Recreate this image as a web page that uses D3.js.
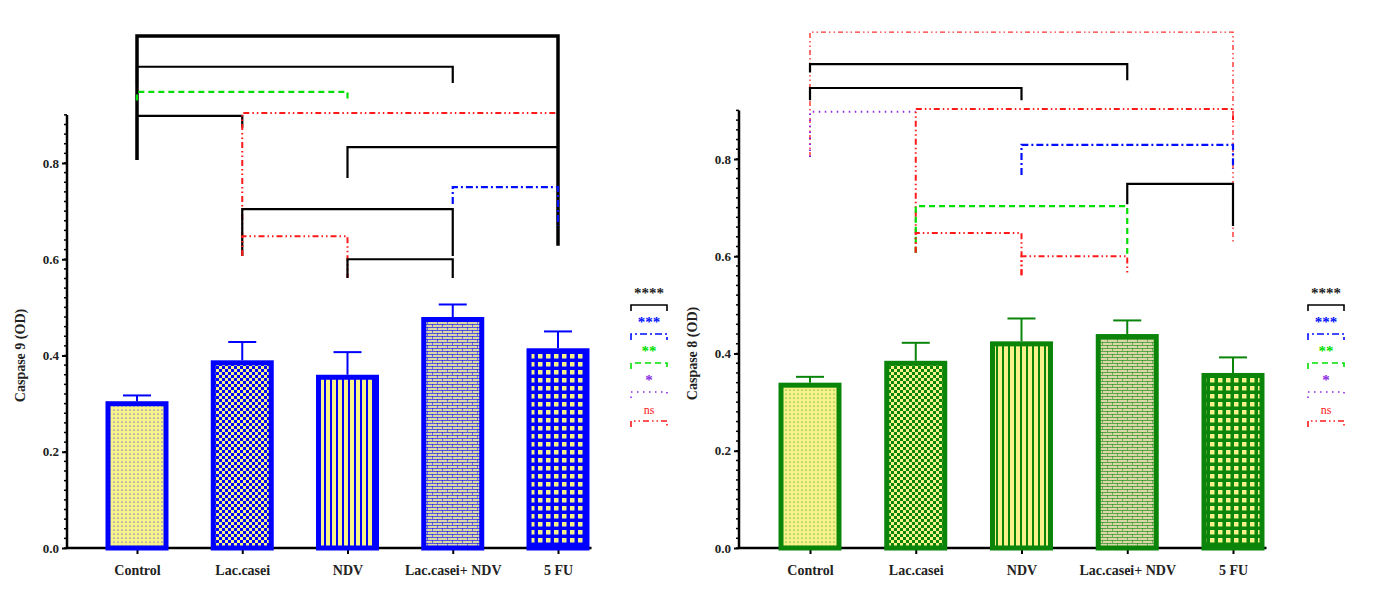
<!DOCTYPE html>
<html>
<script src="https://d3js.org/d3.v7.min.js"></script>
<body style="margin:0;background:#fff">
<svg id="chart" width="1375" height="599"></svg>
<script>
    var categories = ["Control", "Lac.casei", "NDV", "Lac.casei+ NDV", "5 FU"];
    var caspase9 = [0.305, 0.39, 0.36, 0.48, 0.415];
    var caspase9Err = [0.012, 0.038, 0.047, 0.026, 0.035];
    var caspase8 = [0.34, 0.385, 0.425, 0.44, 0.36];
    var caspase8Err = [0.012, 0.037, 0.047, 0.028, 0.032];
    var yTicks = [0.0, 0.2, 0.4, 0.6, 0.8];
    var patternNames = ["dots", "checker", "vstripe", "brick", "grid"];

    // brackets: [from, to, top, leftEnd, rightEnd, style]
    var brackets9 = [
        [0, 4, 1.064, 0.806, 0.628, "thick"],
        [0, 3, 1.0, 0.966, 0.966, "solid"],
        [0, 2, 0.948, 0.93, 0.93, "green"],
        [0, 1, 0.898, 0.806, 0.873, "solid"],
        [1, 4, 0.904, 0.607, 0.904, "red"],
        [2, 4, 0.833, 0.769, 0.833, "solid"],
        [3, 4, 0.75, 0.715, 0.67, "blue"],
        [1, 3, 0.704, 0.607, 0.607, "solid"],
        [1, 2, 0.648, 0.607, 0.561, "red"],
        [2, 3, 0.6, 0.561, 0.561, "solid"]
    ];
    var brackets8 = [
        [0, 4, 1.061, 0.804, 0.629, "redthin"],
        [0, 3, 0.995, 0.978, 0.962, "solid"],
        [0, 2, 0.946, 0.921, 0.921, "solid"],
        [0, 1, 0.897, 0.804, 0.897, "purple"],
        [1, 4, 0.903, 0.607, 0.88, "red"],
        [2, 4, 0.829, 0.767, 0.78, "blue"],
        [3, 4, 0.749, 0.707, 0.662, "solid"],
        [1, 3, 0.703, 0.607, 0.605, "green"],
        [1, 2, 0.648, 0.607, 0.561, "red"],
        [2, 3, 0.6, 0.561, 0.561, "red"]
    ];
    var legendLabels = ["****", "***", "**", "*", "ns"];
    var legendStyles = ["solid", "blue", "green", "purple", "red"];

    var styles = {
        thick: { c: "#000", w: 3.5, d: null },
        solid: { c: "#000", w: 2.2, d: null },
        green: { c: "#00e000", w: 2.2, d: "6,4" },
        red: { c: "#ff1a1a", w: 2, d: "6,3,1.5,3,1.5,3" },
        redthin: { c: "#ff3030", w: 1.4, d: "5,3,1.5,3,1.5,3" },
        blue: { c: "#0010ff", w: 2.2, d: "7,3,2,3" },
        purple: { c: "#8a2be2", w: 2, d: "1.5,4.5" }
    };

    var svg = d3.select("#chart");
    var defs = svg.append("defs");

    function makePatterns(color, prefix) {
        var yel = "#f7f38a";
        var p = defs.append("pattern").attr("id", prefix + "dots").attr("patternUnits", "userSpaceOnUse").attr("width", 4).attr("height", 4);
        p.append("rect").attr("width", 4).attr("height", 4).attr("fill", yel);
        p.append("circle").attr("cx", 2).attr("cy", 2).attr("r", 0.6).attr("fill", color);

        p = defs.append("pattern").attr("id", prefix + "checker").attr("patternUnits", "userSpaceOnUse").attr("width", 6).attr("height", 6);
        p.append("rect").attr("width", 6).attr("height", 6).attr("fill", yel);
        p.append("rect").attr("width", 3).attr("height", 3).attr("fill", color);
        p.append("rect").attr("x", 3).attr("y", 3).attr("width", 3).attr("height", 3).attr("fill", color);

        p = defs.append("pattern").attr("id", prefix + "vstripe").attr("patternUnits", "userSpaceOnUse").attr("width", 6).attr("height", 6);
        p.append("rect").attr("width", 6).attr("height", 6).attr("fill", yel);
        p.append("rect").attr("width", 2).attr("height", 6).attr("fill", color);

        p = defs.append("pattern").attr("id", prefix + "brick").attr("patternUnits", "userSpaceOnUse").attr("width", 10).attr("height", 6);
        p.append("rect").attr("width", 10).attr("height", 6).attr("fill", "#d9d6a8");
        p.append("rect").attr("width", 10).attr("height", 1).attr("fill", color).attr("opacity", 0.6);
        p.append("rect").attr("y", 3).attr("width", 10).attr("height", 1).attr("fill", color).attr("opacity", 0.6);
        p.append("rect").attr("x", 2).attr("width", 1).attr("height", 3).attr("fill", color).attr("opacity", 0.5);
        p.append("rect").attr("x", 7).attr("y", 3).attr("width", 1).attr("height", 3).attr("fill", color).attr("opacity", 0.5);

        p = defs.append("pattern").attr("id", prefix + "grid").attr("patternUnits", "userSpaceOnUse").attr("width", 8).attr("height", 8);
        p.append("rect").attr("width", 8).attr("height", 8).attr("fill", color);
        p.append("rect").attr("x", 2).attr("y", 2).attr("width", 4.5).attr("height", 4.5).attr("fill", yel);
    }

    function drawPanel(opt) {
        makePatterns(opt.color, opt.prefix);
        var g = svg.append("g");
        var x = d3.scalePoint().domain(categories).range([opt.x0, opt.x1]);
        var y = d3.scaleLinear().domain([0, 0.8]).range([548, opt.y08]);
        var bw = 63;

        // axes
        var ay = g.append("g").attr("transform", "translate(" + opt.axisX + ",0)")
            .call(d3.axisLeft(y).tickValues(yTicks).tickFormat(d3.format(".1f")).tickSize(5));
        ay.select(".domain").attr("stroke-width", 2.5).attr("d", "M0," + y(0) + "V" + y(0.9));
        ay.selectAll(".tick line").attr("stroke-width", 2);
        ay.selectAll("text").attr("font-family", "Liberation Serif").attr("font-weight", "bold").attr("font-size", 13).attr("fill", "#222");
        g.append("g").selectAll("line").data(d3.range(0, 0.901, 0.02)).enter().append("line")
            .attr("x1", opt.axisX - 3).attr("x2", opt.axisX).attr("y1", function (d) { return y(d); }).attr("y2", function (d) { return y(d); })
            .attr("stroke", "#000").attr("stroke-width", 1.5);

        var ax = g.append("g").attr("transform", "translate(0," + y(0) + ")")
            .call(d3.axisBottom(x).tickSize(6));
        ax.select(".domain").attr("stroke-width", 2.5).attr("d", "M" + opt.axisX + ",0H" + (opt.x1 + bw / 2 + 2));
        ax.selectAll(".tick line").attr("stroke-width", 2);
        ax.selectAll("text").attr("dy", "1.3em").attr("font-family", "Liberation Serif").attr("font-weight", "bold").attr("font-size", 14).attr("fill", "#222");

        g.append("text").attr("transform", "translate(" + (opt.axisX - 42) + "," + y(0.4) + ") rotate(-90)")
            .attr("text-anchor", "middle").attr("font-family", "Liberation Serif").attr("font-weight", "bold").attr("font-size", 14)
            .attr("fill", "#222").text(opt.label);

        // error bars
        var eb = g.append("g");
        opt.values.forEach(function (v, i) {
            var cx = x(categories[i]);
            eb.append("line").attr("x1", cx).attr("x2", cx).attr("y1", y(v)).attr("y2", y(v + opt.err[i])).attr("stroke", opt.color).attr("stroke-width", 2);
            eb.append("line").attr("x1", cx - 14).attr("x2", cx + 14).attr("y1", y(v + opt.err[i])).attr("y2", y(v + opt.err[i])).attr("stroke", opt.color).attr("stroke-width", 2);
        });

        g.append("g").selectAll("rect").data(opt.values).enter().append("rect")
            .attr("x", function (d, i) { return x(categories[i]) - bw / 2 + 2.5; })
            .attr("y", function (d) { return y(d) + 2.5; })
            .attr("width", bw - 5)
            .attr("height", function (d) { return y(0) - y(d) - 2.5; })
            .attr("fill", function (d, i) { return "url(#" + opt.prefix + patternNames[i] + ")"; })
            .attr("stroke", opt.color).attr("stroke-width", 5);

        // brackets
        g.append("g").selectAll("path").data(opt.brackets).enter().append("path")
            .attr("d", function (b) {
                var xa = x(categories[b[0]]), xb = x(categories[b[1]]);
                return "M" + xa + "," + y(b[3]) + "V" + y(b[2]) + "H" + xb + "V" + y(b[4]);
            })
            .attr("fill", "none")
            .attr("stroke", function (b) { return styles[b[5]].c; })
            .attr("stroke-width", function (b) { return styles[b[5]].w; })
            .attr("stroke-dasharray", function (b) { return styles[b[5]].d; });

        // legend
        var lg = g.append("g").attr("transform", "translate(" + opt.legendX + ",0)");
        legendLabels.forEach(function (l, i) {
            var s = styles[legendStyles[i]];
            var ty = 298 + i * 29;
            lg.append("text").attr("x", 19).attr("y", ty).attr("text-anchor", "middle")
                .attr("font-family", "Liberation Serif").attr("font-weight", l == "ns" ? "normal" : "bold").attr("font-size", l == "ns" ? 12 : 15)
                .attr("fill", l == "****" ? "#222" : s.c).text(l);
            lg.append("path").attr("d", "M1," + (ty + 13) + "V" + (ty + 7) + "H37V" + (ty + 13))
                .attr("fill", "none").attr("stroke", s.c).attr("stroke-width", i == 0 ? 1.6 : 1.6).attr("stroke-dasharray", s.d);
        });
    }

    drawPanel({ color: "#0000ff", prefix: "b", x0: 137, x1: 558, axisX: 67, y08: 163, values: caspase9, err: caspase9Err,
        brackets: brackets9, label: "Caspase 9 (OD)", legendX: 630 });
    drawPanel({ color: "#0a850a", prefix: "g", x0: 810, x1: 1233, axisX: 739, y08: 159, values: caspase8, err: caspase8Err,
        brackets: brackets8, label: "Caspase 8 (OD)", legendX: 1307 });
</script>
</body>
</html>
